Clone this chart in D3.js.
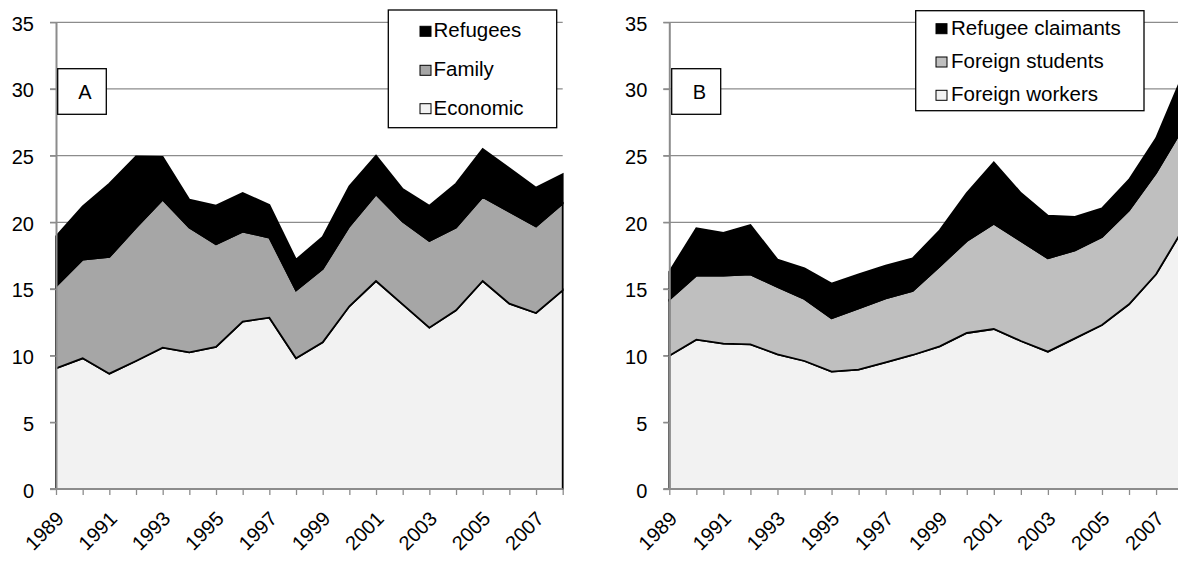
<!DOCTYPE html>
<html>
<head>
<meta charset="utf-8">
<script src="https://cdn.jsdelivr.net/npm/d3@7"></script>
<style>
  html, body { margin: 0; padding: 0; background: #fff; overflow: hidden; }
  svg { display: block; font-family: "Liberation Sans", Arial, sans-serif; }
</style>
</head>
<body>
<svg id="chart" width="1178" height="561"></svg>
<script>
// Years on the horizontal axis (every year ticked, every second year labelled)
const years = d3.range(1989, 2009);
const yearLabels = [1989, 1991, 1993, 1995, 1997, 1999, 2001, 2003, 2005, 2007];
const yTicks = [0, 5, 10, 15, 20, 25, 30, 35];

// Panel A: permanent admissions by class (stacked)
const economic = [9.05, 9.8, 8.65, 9.6, 10.6, 10.25, 10.65, 12.55, 12.85, 9.8, 11.0, 13.7, 15.6, 13.85, 12.1, 13.4, 15.6, 13.9, 13.2, 14.9];
const family   = [6.15, 7.4, 8.75, 10.0, 11.1, 9.35, 7.7, 6.75, 6.0, 5.1, 5.5, 6.0, 6.5, 6.2, 6.5, 6.2, 6.3, 6.9, 6.5, 6.5];
const refugees = [3.75, 4.0, 5.5, 5.35, 3.2, 2.1, 2.9, 2.9, 2.45, 2.3, 2.4, 3.0, 2.9, 2.45, 2.65, 3.3, 3.6, 3.25, 2.9, 2.2];

// Panel B: temporary residents by type (stacked)
const foreignWorkers   = [10.0, 11.2, 10.9, 10.85, 10.1, 9.6, 8.8, 8.95, 9.5, 10.05, 10.7, 11.7, 12.0, 11.1, 10.3, 11.3, 12.3, 13.85, 16.1, 19.5];
const foreignStudents  = [4.2, 4.8, 5.1, 5.25, 5.05, 4.65, 4.0, 4.6, 4.8, 4.8, 6.0, 6.9, 7.9, 7.5, 7.0, 6.6, 6.6, 7.05, 7.6, 7.6];
const refugeeClaimants = [2.1, 3.55, 3.2, 3.7, 2.05, 2.3, 2.6, 2.55, 2.45, 2.45, 2.7, 3.6, 4.6, 3.6, 3.2, 2.5, 2.15, 2.3, 2.6, 4.0];

const panels = [
  {
    tag: "A",
    x0: 56, x1: 562.7,
    series: [
      { key: "Economic", values: economic, fill: "#f2f2f2" },
      { key: "Family", values: family, fill: "#a6a6a6" },
      { key: "Refugees", values: refugees, fill: "#000000" }
    ],
    tagBox: { x: 57.7, y: 68.7, w: 48.6, h: 45.6, tx: 85 },
    legend: { x: 388.3, y: 10, w: 168.4, h: 117.7, sx: 420, tx: 433.5, baselines: [37.3, 76.3, 114.7] }
  },
  {
    tag: "B",
    x0: 669.3, x1: 1183.1,
    series: [
      { key: "Foreign workers", values: foreignWorkers, fill: "#f2f2f2" },
      { key: "Foreign students", values: foreignStudents, fill: "#bfbfbf" },
      { key: "Refugee claimants", values: refugeeClaimants, fill: "#000000" }
    ],
    tagBox: { x: 671.7, y: 68.7, w: 49, h: 45.6, tx: 699.3 },
    legend: { x: 915.7, y: 10.7, w: 228.3, h: 100, sx: 936, tx: 951, baselines: [34.7, 68, 101.3] }
  }
];

const svg = d3.select("#chart");
const gridColor = "#8c8c8c";
const y = d3.scaleLinear().domain([0, 35]).range([489, 22.3]);

panels.forEach(p => {
  const x = d3.scaleLinear().domain([1989, 2008]).range([p.x0, p.x1]);
  const g = svg.append("g");

  // horizontal gridlines (also serve as the y tick marks)
  g.append("g").selectAll("line").data(yTicks.filter(v => v > 0)).join("line")
    .attr("x1", p.x0 - 6).attr("x2", p.x1)
    .attr("y1", d => y(d)).attr("y2", d => y(d))
    .attr("stroke", gridColor).attr("stroke-width", 1.3);

  // stacked areas
  const rows = years.map((yr, i) => {
    const r = { year: yr };
    p.series.forEach(s => { r[s.key] = s.values[i]; });
    return r;
  });
  const stack = d3.stack().keys(p.series.map(s => s.key))(rows);
  const area = d3.area()
    .x(d => x(d.data.year))
    .y0(d => y(d[0]))
    .y1(d => y(d[1]));
  g.append("g").selectAll("path").data(stack).join("path")
    .attr("d", area)
    .attr("fill", (d, i) => p.series[i].fill)
    .attr("stroke", "#000")
    .attr("stroke-width", 1.8)
    .attr("stroke-linejoin", "miter");

  // y axis
  const yAxis = g.append("g").attr("transform", `translate(${p.x0},0)`)
    .call(d3.axisLeft(y).tickValues(yTicks).tickSize(6).tickSizeOuter(0).tickPadding(16));
  yAxis.select(".domain").attr("stroke", gridColor).attr("stroke-width", 2);
  yAxis.selectAll(".tick line").attr("stroke", gridColor).attr("stroke-width", 1.3);
  yAxis.selectAll(".tick text")
    .attr("font-size", 20).attr("fill", "#000")
    .attr("font-family", "'Liberation Sans', Arial, sans-serif")
    .attr("dy", "0.4em");

  // x axis
  const xAxis = g.append("g").attr("transform", `translate(0,${y(0)})`)
    .call(d3.axisBottom(x).tickValues(years).tickSize(6).tickSizeOuter(0).tickFormat(""));
  xAxis.select(".domain").attr("stroke", gridColor).attr("stroke-width", 2)
    .attr("d", `M${p.x0 - 6},0H${p.x1}`);
  xAxis.selectAll(".tick line").attr("stroke", gridColor).attr("stroke-width", 1.3);

  g.append("g").selectAll("text").data(yearLabels).join("text")
    .attr("transform", d => `translate(${x(d) + 9},${y(0) + 31}) rotate(-45)`)
    .attr("text-anchor", "end")
    .attr("font-size", 20)
    .text(d => d);

  // panel tag box
  const tb = p.tagBox;
  g.append("rect").attr("x", tb.x).attr("y", tb.y).attr("width", tb.w).attr("height", tb.h)
    .attr("fill", "#fff").attr("stroke", "#000").attr("stroke-width", 1.3);
  g.append("text").attr("x", tb.tx).attr("y", 99.3).attr("text-anchor", "middle")
    .attr("font-size", 20).text(p.tag);

  // legend (top series first)
  const L = p.legend;
  g.append("rect").attr("x", L.x).attr("y", L.y).attr("width", L.w).attr("height", L.h)
    .attr("fill", "#fff").attr("stroke", "#000").attr("stroke-width", 1.3);
  const items = p.series.slice().reverse();
  const li = g.append("g").selectAll("g").data(items).join("g");
  li.append("rect")
    .attr("x", L.sx).attr("y", (d, i) => L.baselines[i] - 11)
    .attr("width", 11).attr("height", 10)
    .attr("fill", d => d.fill)
    .attr("stroke", "#000").attr("stroke-width", 1);
  li.append("text")
    .attr("x", L.tx).attr("y", (d, i) => L.baselines[i])
    .attr("font-size", 20.5)
    .text(d => d.key);
});
</script>
</body>
</html>
